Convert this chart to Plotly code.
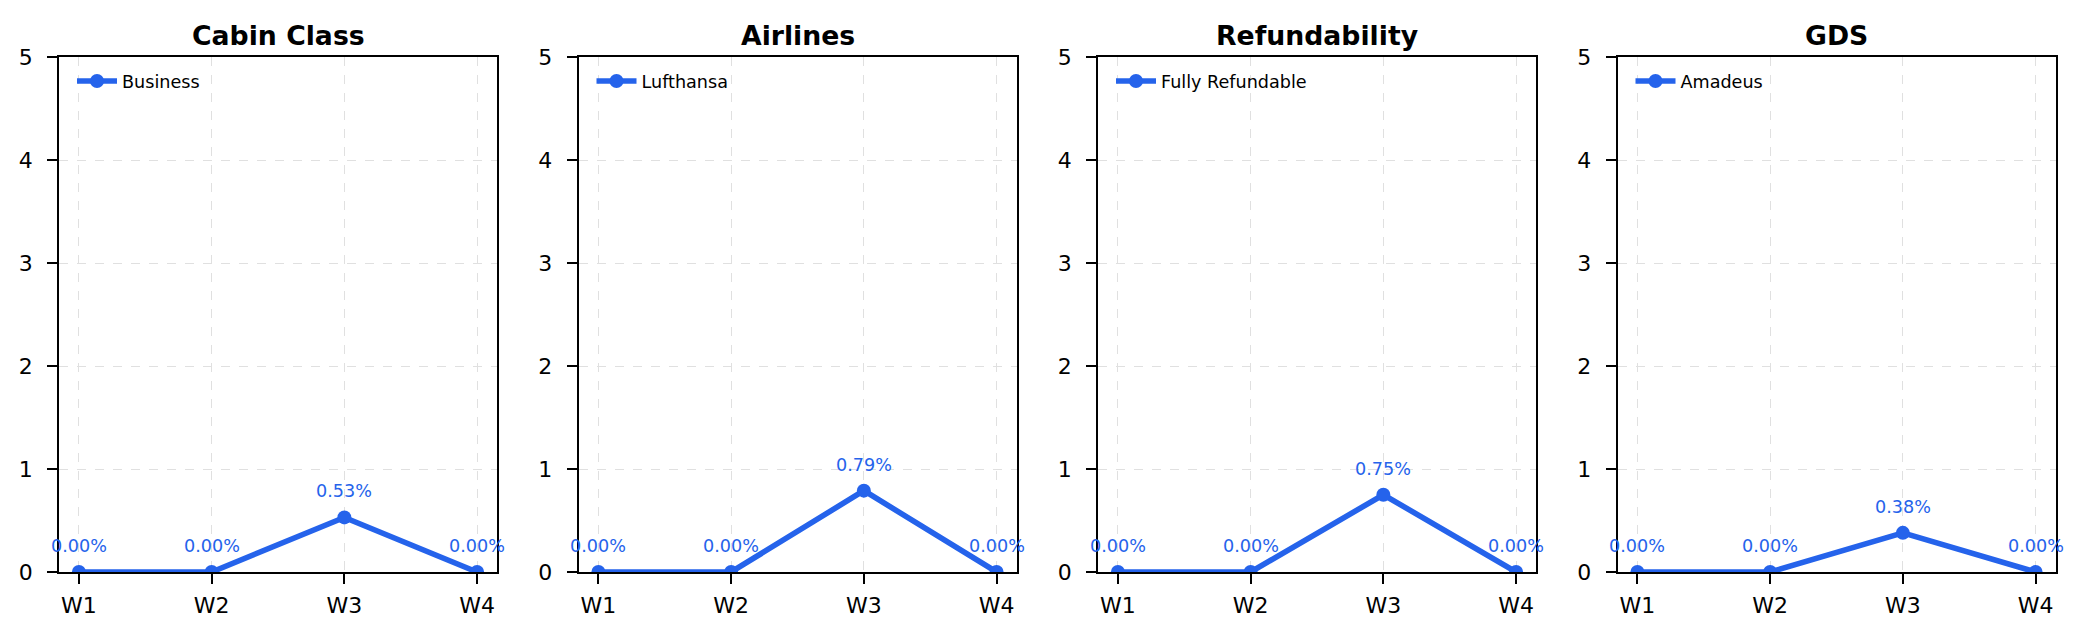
import plotly.graph_objects as go

weeks = ["W1", "W2", "W3", "W4"]
panel_titles = ["Cabin Class", "Airlines", "Refundability", "GDS"]
series_names = ["Business", "Lufthansa", "Fully Refundable", "Amadeus"]
cabin_class = [0.0, 0.0, 0.53, 0.0]
airlines = [0.0, 0.0, 0.79, 0.0]
refundability = [0.0, 0.0, 0.75, 0.0]
gds = [0.0, 0.0, 0.38, 0.0]
y_ticks = [0, 1, 2, 3, 4, 5]

series_values = [cabin_class, airlines, refundability, gds]

W, H = 2086, 640
BLUE = "#2563EB"
FONT = "DejaVu Sans"
TOP, BOTTOM = 57, 572

fig = go.Figure()
layout = dict(
    width=W, height=H, margin=dict(l=0, r=0, t=0, b=0, pad=0),
    autosize=False,
    paper_bgcolor="white", plot_bgcolor="white",
    font=dict(family=FONT, color="black", size=22),
    showlegend=True,
)
annotations = []

for i in range(4):
    left = 59 + 519.5 * i
    right = left + 438
    dom = [left / W, right / W]
    sfx = "" if i == 0 else str(i + 1)
    xa, ya = "x" + sfx, "y" + sfx
    lg = "legend" + sfx
    fig.add_trace(go.Scatter(
        x=weeks, y=series_values[i], mode="lines+markers",
        name=series_names[i], xaxis=xa, yaxis=ya, legend=lg,
        line=dict(color=BLUE, width=5.6), marker=dict(color=BLUE, size=14),
        showlegend=True,
    ))
    axis_common = dict(
        showline=True, linecolor="black", linewidth=1.8, mirror=True,
        ticks="outside", ticklen=10, tickwidth=1.8, tickcolor="black",
        showgrid=True, gridcolor="#e0e0e0", gridwidth=1.2, griddash="dash",
        zeroline=False, layer="below traces", automargin=False,
        tickfont=dict(family=FONT, size=22, color="black"),
    )
    layout["xaxis" + sfx] = dict(
        axis_common, domain=dom, anchor=ya, type="category",
        range=[-0.15, 3.15], categoryorder="array", categoryarray=weeks,
        ticklabelstandoff=3,
    )
    layout["yaxis" + sfx] = dict(
        axis_common, domain=[1 - BOTTOM / H, 1 - TOP / H], anchor=xa,
        range=[0, 5], tickvals=y_ticks, ticklabelstandoff=10,
    )
    layout[lg] = dict(
        x=(left + 13) / W, y=1 - 81 / H, xanchor="left", yanchor="middle",
        bgcolor="rgba(0,0,0,0)", borderwidth=0,
        font=dict(family=FONT, size=17.6, color="black"),
        itemwidth=40,
    )
    annotations.append(dict(
        text="<b>" + panel_titles[i] + "</b>", xref="paper", yref="paper",
        x=(left + right) / 2 / W, y=1 - 35 / H, xanchor="center", yanchor="middle",
        showarrow=False, font=dict(family=FONT, size=26.7, color="black"),
    ))
    for wk, v in zip(weeks, series_values[i]):
        annotations.append(dict(
            text=f"{v:.2f}%", x=wk, y=v, xref=xa, yref=ya,
            xanchor="center", yanchor="middle", yshift=26, showarrow=False,
            font=dict(family=FONT, size=17.6, color=BLUE),
        ))

layout["annotations"] = annotations
fig.update_layout(**layout)
fig.write_html(
    "out.html",
    config={"displayModeBar": False},
    post_script="document.body.style.margin='0';document.body.style.overflow='hidden';",
)
